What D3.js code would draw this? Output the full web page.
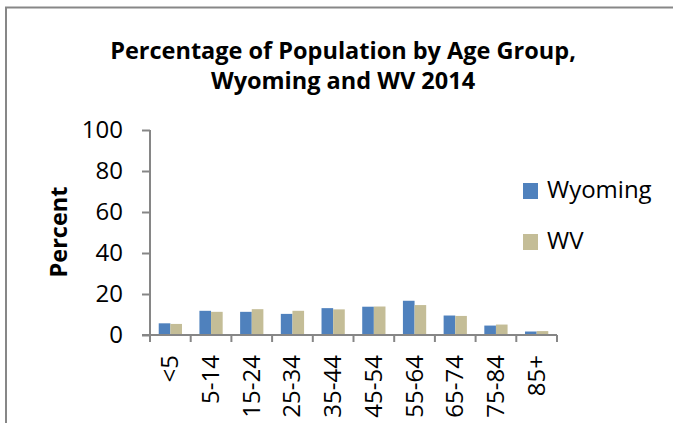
<!DOCTYPE html>
<html>
<head>
<meta charset="utf-8">
<script src="https://cdn.jsdelivr.net/npm/d3@7"></script>
<style>
  html, body { margin: 0; background: #fff; overflow: hidden; }
  svg { display: block; }
  text { font-family: "Open Sans", "Noto Sans", sans-serif; }
</style>
</head>
<body>
<div id="chart"></div>
<script>
const categories = ["<5", "5-14", "15-24", "25-34", "35-44", "45-54", "55-64", "65-74", "75-84", "85+"];
const wyoming = [5.7, 11.8, 11.3, 10.3, 13.1, 13.8, 16.7, 9.5, 4.6, 1.7];
const wv = [5.4, 11.3, 12.6, 11.8, 12.5, 13.9, 14.6, 9.3, 5.1, 1.9];
const seriesNames = ["Wyoming", "WV"];
const colors = ["#4F81BD", "#C4BD97"];
const yTicks = [0, 20, 40, 60, 80, 100];

const W = 673, H = 423;
const plot = {left: 150, right: 557, top: 130, bottom: 335};

const svg = d3.select("#chart")
    .append("svg")
        .attr("width", W)
        .attr("height", H);

// chart frame (only top and left visible in the crop)
svg.append("path")
    .attr("d", `M6,${H + 5} L6,7.5 L${W + 5},7.5`)
    .attr("fill", "none")
    .attr("stroke", "#878787")
    .attr("stroke-width", 2);

// title
const title = svg.append("text")
    .attr("text-anchor", "middle")
    .attr("font-weight", "bold")
    .attr("font-size", 23.5)
    .attr("fill", "#000");
title.append("tspan").attr("x", 343).attr("y", 59).text("Percentage of Population by Age Group,");
title.append("tspan").attr("x", 343).attr("y", 89).text("Wyoming and WV 2014");

const x = d3.scaleBand()
    .domain(categories)
    .range([plot.left, plot.right])
    .paddingInner(0)
    .paddingOuter(0);

const y = d3.scaleLinear()
    .domain([0, 100])
    .range([plot.bottom, plot.top]);

// bars: two per band, Excel-like 150% gap
const barW = x.bandwidth() / 3.5;
const rows = categories.map((c, i) => ({c, vals: [wyoming[i], wv[i]]}));

const groups = svg.append("g")
    .selectAll("g")
    .data(rows)
    .join("g")
        .attr("transform", (d) => `translate(${x(d.c) + x.bandwidth() / 2 - barW},0)`);

groups.selectAll("rect")
    .data((d) => d.vals.map((v, k) => ({v, k})))
    .join("rect")
        .attr("x", (d) => d.k * barW)
        .attr("width", barW)
        .attr("y", (d) => y(d.v))
        .attr("height", (d) => y(0) - y(d.v))
        .attr("fill", (d) => colors[d.k]);

// y axis
svg.append("g")
    .attr("transform", `translate(${plot.left},0)`)
    .call(d3.axisLeft(y).tickValues(yTicks).tickSize(8).tickPadding(19))
    .call((g) => g.selectAll("path, line").attr("stroke", "#868686").attr("stroke-width", 2))
    .call((g) => g.select(".domain").attr("d", `M0,${plot.top}V${plot.bottom}`))
    .call((g) => g.selectAll("text")
        .attr("font-family", "'Open Sans', sans-serif")
        .attr("font-size", 24)
        .attr("fill", "#000"));

// x axis
const xAxis = svg.append("g")
    .attr("transform", `translate(0,${plot.bottom})`);
xAxis.append("line")
    .attr("x1", plot.left - 8).attr("x2", plot.right)
    .attr("stroke", "#868686").attr("stroke-width", 2);
xAxis.selectAll("line.tick")
    .data(categories.map((c) => x(c)).concat([plot.right]))
    .join("line")
        .attr("class", "tick")
        .attr("x1", (d) => d).attr("x2", (d) => d)
        .attr("y1", 0).attr("y2", 7)
        .attr("stroke", "#868686").attr("stroke-width", 2);
xAxis.selectAll("text")
    .data(categories)
    .join("text")
        .attr("transform", (d) => `translate(${x(d) + x.bandwidth() / 2 + 8},20) rotate(-90)`)
        .attr("text-anchor", "end")
        .attr("font-size", 24)
        .attr("fill", "#000")
        .text((d) => d);

// y axis title
svg.append("text")
    .attr("transform", `translate(67,232) rotate(-90)`)
    .attr("text-anchor", "middle")
    .attr("font-weight", "bold")
    .attr("font-size", 23.5)
    .attr("fill", "#000")
    .text("Percent");

// legend
const legend = svg.append("g")
    .selectAll("g")
    .data(seriesNames)
    .join("g")
        .attr("transform", (d, i) => `translate(523,${183 + i * 51})`);
legend.append("rect")
    .attr("width", 15).attr("height", 16)
    .attr("fill", (d, i) => colors[i]);
legend.append("text")
    .attr("x", 24).attr("y", 15)
    .attr("font-size", 24)
    .attr("fill", "#000")
    .text((d) => d);
</script>
</body>
</html>
